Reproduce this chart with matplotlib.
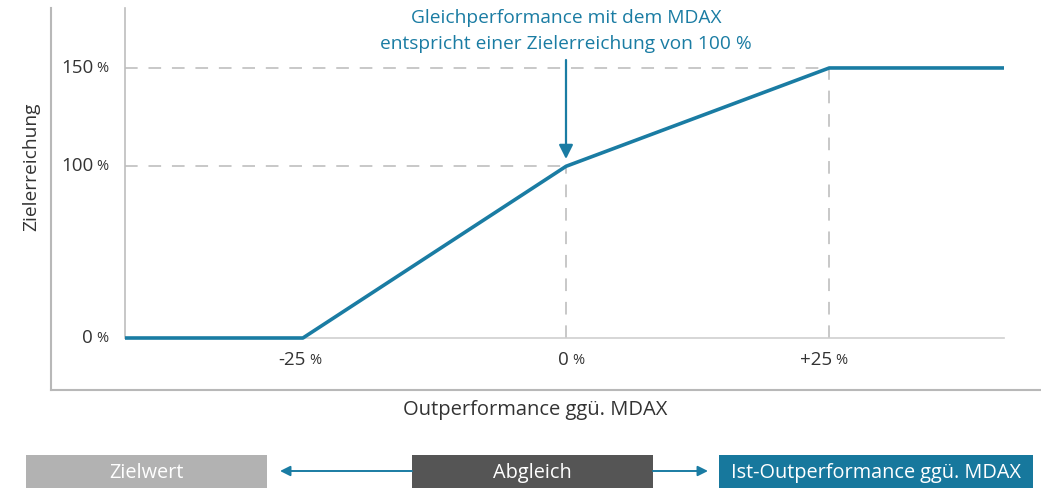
import matplotlib.pyplot as plt
import numpy as np
from matplotlib.lines import Line2D
from matplotlib.patches import Rectangle, FancyArrowPatch
import matplotlib.transforms as mtransforms

plt.rcParams['font.family'] = ['Open Sans', 'DejaVu Sans']

# Chart data
outperf = [-41.9, -25, 0, 25, 41.6]          # Outperformance ggü. MDAX in %
zielerreichung = [0, 0, 100, 150, 150]       # Zielerreichung in %
x_ticks = [-25, 0, 25]
x_tick_labels = ['-25', '0', '+25']
y_ticks = [0, 100, 150]
y_tick_labels = ['0', '100', '150']
boxes = ['Zielwert', 'Abgleich', 'Ist-Outperformance ggü. MDAX']

TEAL = '#1a7ca3'
GRID = '#c4c4c4'
TEXT = '#333333'

W, H = 1041, 488
fig = plt.figure(figsize=(W / 100, H / 100), dpi=100)


def fx(px):
    return px / W


def fy(py):
    return 1 - py / H


ax = fig.add_axes([fx(125), fy(338), fx(1004) - fx(125), fy(8) - fy(338)])

# schematic (non-linear) y spacing as in the original drawing
y_in = [0, 100, 150, 200]
y_out = [0, 100, 157.25, 214.5]
ax.set_yscale('function', functions=(lambda v: np.interp(v, y_in, y_out),
                                     lambda v: np.interp(v, y_out, y_in)))
ax.set_xlim(outperf[0], outperf[-1])
ax.set_ylim(0, 180.5)

# dashed helper lines
dash = dict(color=GRID, lw=1.3, dashes=(7, 6))
ax.plot([outperf[0], x_ticks[1]], [y_ticks[1]] * 2, **dash)
ax.plot([outperf[0], x_ticks[2]], [y_ticks[2]] * 2, **dash)
ax.plot([x_ticks[1]] * 2, [0, y_ticks[1]], **dash)
ax.plot([x_ticks[2]] * 2, [0, y_ticks[2]], **dash)

ax.plot(outperf, zielerreichung, color=TEAL, lw=2.6, clip_on=False, zorder=5,
        solid_capstyle='butt')

for s in ['top', 'right']:
    ax.spines[s].set_visible(False)
ax.spines['left'].set_color('#bdbdbd')
ax.spines['bottom'].set_color('#cfcfcf')
ax.spines['left'].set_linewidth(1.2)
ax.spines['bottom'].set_linewidth(1.2)
ax.set_xticks([])
ax.set_yticks([])

# tick labels with smaller percent sign
ytr = mtransforms.blended_transform_factory(ax.transAxes, ax.transData)
for v, lab in zip(y_ticks, y_tick_labels):
    ax.annotate(lab, (0, v), xycoords=ytr, xytext=(-23, 0), textcoords='offset points',
                ha='right', va='center', fontsize=13.5, color=TEXT)
    ax.annotate('%', (0, v), xycoords=ytr, xytext=(-20.5, -0.5), textcoords='offset points',
                ha='left', va='center', fontsize=10.5, color=TEXT)
xtr = mtransforms.blended_transform_factory(ax.transData, ax.transAxes)
for v, lab in zip(x_ticks, x_tick_labels):
    ax.annotate(lab, (v, 0), xycoords=xtr, xytext=(2, -16), textcoords='offset points',
                ha='right', va='center', fontsize=13.5, color=TEXT)
    ax.annotate('%', (v, 0), xycoords=xtr, xytext=(4.5, -16.5), textcoords='offset points',
                ha='left', va='center', fontsize=10.5, color=TEXT)

# annotation
fig.text(fx(566), fy(31), 'Gleichperformance mit dem MDAX\nentspricht einer Zielerreichung von 100 %',
         ha='center', va='center', fontsize=13.8, color=TEAL, linespacing=1.55)
fig.add_artist(FancyArrowPatch((fx(566), fy(60)), (fx(566), fy(159)),
                               transform=fig.transFigure, arrowstyle='-|>,head_length=0.6,head_width=0.3',
                               mutation_scale=14, color=TEAL, lw=1.6, shrinkA=0, shrinkB=0))

# outer frame
fig.add_artist(Line2D([fx(51), fx(51)], [fy(8), fy(390)], color='#b8b8b8', lw=1.5))
fig.add_artist(Line2D([fx(51), fx(1041)], [fy(390), fy(390)], color='#b8b8b8', lw=1.5))

fig.text(fx(31), fy(167), 'Zielerreichung', rotation=90, ha='center', va='center',
         fontsize=13.8, color=TEXT)
fig.text(fx(535), fy(410), 'Outperformance ggü. MDAX', ha='center', va='center',
         fontsize=14.5, color=TEXT)

# process boxes at the bottom
box_x = [(26, 267), (412, 653), (719, 1033)]
box_col = ['#b2b2b2', '#555555', '#17789d']
for (x0, x1), col, lab in zip(box_x, box_col, boxes):
    fig.add_artist(Rectangle((fx(x0), 0), fx(x1) - fx(x0), fy(455), transform=fig.transFigure,
                             facecolor=col, edgecolor='none'))
    fig.text(fx((x0 + x1) / 2), fy(473), lab, ha='center', va='center', fontsize=14.3,
             color='white')

arr = dict(transform=fig.transFigure, arrowstyle='-|>,head_length=0.5,head_width=0.25',
           mutation_scale=12, color=TEAL, lw=1.4, shrinkA=0, shrinkB=0)
fig.add_artist(FancyArrowPatch((fx(412), fy(471)), (fx(280), fy(471)), **arr))
fig.add_artist(FancyArrowPatch((fx(653), fy(471)), (fx(708), fy(471)), **arr))

fig.savefig('out.png', dpi=100)
